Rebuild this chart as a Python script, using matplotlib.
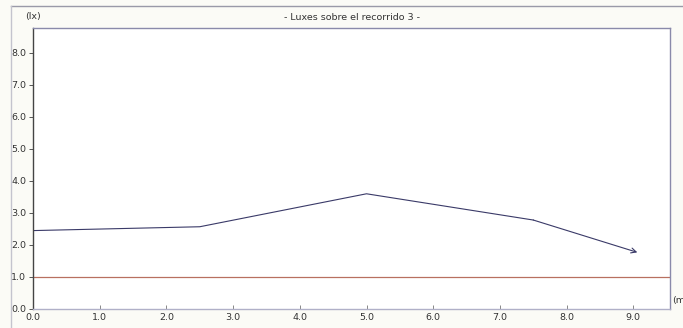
import matplotlib
matplotlib.use("Agg")
import matplotlib.pyplot as plt
from matplotlib.lines import Line2D
import numpy as np

# recorrido 3 (m) vs luxes
dist = [0.0, 2.5, 5.0, 7.5, 9.06]
lux = [2.45, 2.57, 3.6, 2.78, 1.77]
lux_min = 1.0
xticks = [0.0, 1.0, 2.0, 3.0, 4.0, 5.0, 6.0, 7.0, 8.0, 9.0]
yticks = [0.0, 1.0, 2.0, 3.0, 4.0, 5.0, 6.0, 7.0, 8.0]
titulo = "- Luxes sobre el recorrido 3 -"

plt.rcParams['font.family'] = ['DejaVu Sans']
fig = plt.figure(figsize=(6.83, 3.28), dpi=100, facecolor='#fbfbf6')
ax = fig.add_axes([33/683, 19/328, 637/683, 281/328])
ax.set_facecolor('white')

ax.plot(dist[:-1], lux[:-1], color='#3a3a68', lw=0.8)
ax.annotate('', xy=(dist[-1], lux[-1]), xytext=(dist[-2], lux[-2]),
            arrowprops=dict(arrowstyle='->', color='#3a3a68', lw=0.8,
                            shrinkA=0, shrinkB=0, mutation_scale=9))
ax.axhline(lux_min, color='#b87060', lw=0.9)

ax.set_xlim(0, 9.55)
ax.set_ylim(0, 8.78)
ax.set_xticks(xticks)
ax.set_yticks(yticks)
ax.set_xticklabels(['%.1f' % v for v in xticks])
ax.set_yticklabels(['%.1f' % v for v in yticks])
ax.tick_params(axis='x', direction='in', length=3, width=0.7, color='#888888',
               labelsize=6.8, labelcolor='#333333', pad=3)
ax.tick_params(axis='y', direction='out', length=3, width=0.7, color='#555555',
               labelsize=6.8, labelcolor='#333333', pad=2)

for s in ['left', 'bottom']:
    ax.spines[s].set_color('#444444')
    ax.spines[s].set_linewidth(1.0)
for s in ['top', 'right']:
    ax.spines[s].set_color('#8a8aaa')
    ax.spines[s].set_linewidth(1.0)
ax.spines['bottom'].set_color('#b0b0c8')

fig.text(33/683, 1 - 17/328, '(lx)', fontsize=6.8, color='#333333',
         ha='center', va='center')
fig.text(352/683, 1 - 17/328, titulo, fontsize=6.8, color='#333333',
         ha='center', va='center')
fig.text(672/683, 1 - 300/328, '(m', fontsize=6.8, color='#333333',
         ha='left', va='center')

# marco exterior
fig.add_artist(Line2D([11/683, 1], [1 - 6/328, 1 - 6/328],
                      transform=fig.transFigure, color='#9a9aa8', lw=1.0))
fig.add_artist(Line2D([11/683, 11/683], [0, 1 - 6/328],
                      transform=fig.transFigure, color='#c4c4ce', lw=1.0))

fig.savefig('out.png', dpi=100, facecolor=fig.get_facecolor())
